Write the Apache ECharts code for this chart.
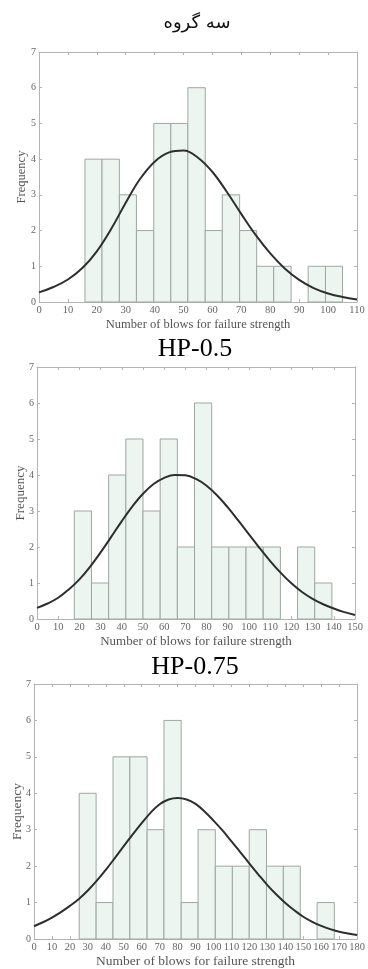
<!DOCTYPE html>
<html>
<head>
<meta charset="utf-8">
<script src="https://cdn.jsdelivr.net/npm/echarts@6/dist/echarts.min.js"></script>
<style>
  html, body { margin: 0; padding: 0; background: #fff; }
  #chart { width: 368px; height: 969px; }
</style>
</head>
<body>
<div id="chart"></div>
<script>
// bin edges and counts
let binEdges1 = [15.9, 21.8, 27.8, 33.7, 39.7, 45.6, 51.5, 57.5, 63.4, 69.4, 75.3, 81.2, 87.2, 93.1, 99.1, 105.0]
let counts1 = [4, 4, 3, 2, 5, 5, 6, 2, 3, 2, 1, 1, 0, 1, 1]
let binEdges2 = [17.6, 25.7, 33.8, 41.9, 50.0, 58.1, 66.2, 74.3, 82.4, 90.5, 98.6, 106.7, 114.8, 122.9, 131.0, 139.1]
let counts2 = [3, 1, 4, 5, 3, 5, 2, 6, 2, 2, 2, 2, 0, 2, 1]
let binEdges3 = [25.2, 34.6, 44.0, 53.4, 63.0, 72.4, 82.0, 91.4, 101.0, 110.5, 119.9, 129.5, 138.9, 148.3, 157.7, 167.3]
let counts3 = [4, 1, 5, 5, 3, 6, 1, 3, 2, 2, 3, 2, 2, 0, 1]

// fitted curves, read point by point
let curve1 = [[0, 0.27], [5, 0.42], [10, 0.63], [15, 0.95], [20, 1.42], [25, 2.05], [30, 2.78], [35, 3.45],
  [40, 3.93], [45, 4.19], [50, 4.24], [55, 4.04], [60, 3.64], [65, 3.08], [70, 2.46], [75, 1.87], [80, 1.36],
  [85, 0.94], [90, 0.62], [95, 0.39], [100, 0.24], [105, 0.14], [110, 0.07]]
let curve2 = [[0, 0.31], [5, 0.43], [10, 0.59], [15, 0.82], [20, 1.10], [25, 1.45], [30, 1.85], [35, 2.28],
  [40, 2.72], [45, 3.13], [50, 3.48], [55, 3.75], [60, 3.92], [65, 4.00], [70, 3.99], [75, 3.89], [80, 3.70],
  [85, 3.43], [90, 3.10], [95, 2.73], [100, 2.35], [105, 1.97], [110, 1.61], [115, 1.28], [120, 0.99],
  [125, 0.75], [130, 0.56], [135, 0.41], [140, 0.29], [145, 0.19], [150, 0.11]]
let curve3 = [[0, 0.35], [5, 0.46], [10, 0.59], [15, 0.74], [20, 0.91], [25, 1.10], [30, 1.33], [35, 1.60],
  [40, 1.90], [45, 2.22], [50, 2.55], [55, 2.87], [60, 3.18], [65, 3.47], [70, 3.70], [75, 3.83], [80, 3.87],
  [85, 3.83], [90, 3.71], [95, 3.50], [100, 3.25], [105, 2.98], [110, 2.68], [115, 2.38], [120, 2.07],
  [125, 1.77], [130, 1.48], [135, 1.22], [140, 0.99], [145, 0.79], [150, 0.61], [155, 0.47], [160, 0.36],
  [165, 0.27], [170, 0.20], [175, 0.15], [180, 0.11]]

let xMax = [110, 150, 180]
let yMax = 7
let chartTitle = 'سه گروه'
let panelLabels = ['HP-0.5', 'HP-0.75']
let xName = 'Number of blows for failure strength'
let yName = 'Frequency'

let grids = [
  {left: 39, top: 52, width: 318, height: 250},
  {left: 37, top: 367, width: 318, height: 252},
  {left: 34, top: 684, width: 326, height: 259}
]
let xNameGap = [16, 16.5, 15]
let yNameGap = [11, 10, 10]
let nameSize = [12.5, 13, 13.5]

let serif = 'Liberation Serif'
let frame = '#b4b4b4'

function toBins (edges, counts) {
  let out = []
  counts.forEach((c, i) => {
    if (c > 0) out.push([edges[i], edges[i + 1], c])
  })
  return out
}

function renderBin (params, api) {
  let p0 = api.coord([api.value(0), api.value(2)])
  let p1 = api.coord([api.value(1), 0])
  return {
    type: 'rect',
    shape: {x: p0[0], y: p0[1], width: p1[0] - p0[0], height: p1[1] - p0[1]},
    style: {fill: '#edf5f0', stroke: '#9ea7a2', lineWidth: 1}
  }
}

function frameAxis (extra) {
  return Object.assign({
    type: 'value',
    axisLine: {show: true, onZero: false, lineStyle: {color: frame}},
    axisTick: {show: true, inside: true, length: 3, lineStyle: {color: frame}},
    splitLine: {show: false}
  }, extra)
}

let xAxes = []
let yAxes = []
let series = []
let bins = [toBins(binEdges1, counts1), toBins(binEdges2, counts2), toBins(binEdges3, counts3)]
let curves = [curve1, curve2, curve3]

grids.forEach((g, i) => {
  xAxes.push(frameAxis({
    gridIndex: i, min: 0, max: xMax[i], interval: 10, position: 'bottom',
    name: xName, nameLocation: 'middle', nameGap: xNameGap[i], nameMoveOverlap: false,
    nameTextStyle: {fontFamily: serif, fontSize: nameSize[i], color: '#555'},
    axisLabel: {fontFamily: serif, fontSize: 10.5, color: '#666', margin: 3}
  }))
  xAxes.push(frameAxis({
    gridIndex: i, min: 0, max: xMax[i], interval: 10, position: 'top',
    axisLabel: {show: false}
  }))
  yAxes.push(frameAxis({
    gridIndex: i, min: 0, max: yMax, interval: 1, position: 'left',
    name: yName, nameLocation: 'middle', nameGap: yNameGap[i], nameMoveOverlap: false,
    nameTextStyle: {fontFamily: serif, fontSize: nameSize[i], color: '#555'},
    axisLabel: {fontFamily: serif, fontSize: 10, color: '#666', margin: 3}
  }))
  yAxes.push(frameAxis({
    gridIndex: i, min: 0, max: yMax, interval: 1, position: 'right',
    axisLabel: {show: false}
  }))
  series.push({
    type: 'custom', xAxisIndex: i * 2, yAxisIndex: i * 2,
    renderItem: renderBin, data: bins[i], silent: true
  })
  series.push({
    type: 'line', xAxisIndex: i * 2, yAxisIndex: i * 2,
    data: curves[i], smooth: 0.4, showSymbol: false, silent: true,
    lineStyle: {color: '#2e2e2e', width: 2}
  })
})

let option = {
  animation: false,
  title: [
    {text: chartTitle, left: 192, top: 9, textAlign: 'center',
      textStyle: {fontFamily: 'DejaVu Sans', fontSize: 18, fontWeight: 'normal', color: '#111'}},
    {text: panelLabels[0], left: 190, top: 331, textAlign: 'center',
      textStyle: {fontFamily: serif, fontSize: 26, fontWeight: 'normal', color: '#000'}},
    {text: panelLabels[1], left: 190, top: 649, textAlign: 'center',
      textStyle: {fontFamily: serif, fontSize: 26, fontWeight: 'normal', color: '#000'}}
  ],
  grid: grids,
  xAxis: xAxes,
  yAxis: yAxes,
  series: series
}

let myChart = echarts.init(document.getElementById('chart'))
myChart.setOption(option)
</script>
</body>
</html>
